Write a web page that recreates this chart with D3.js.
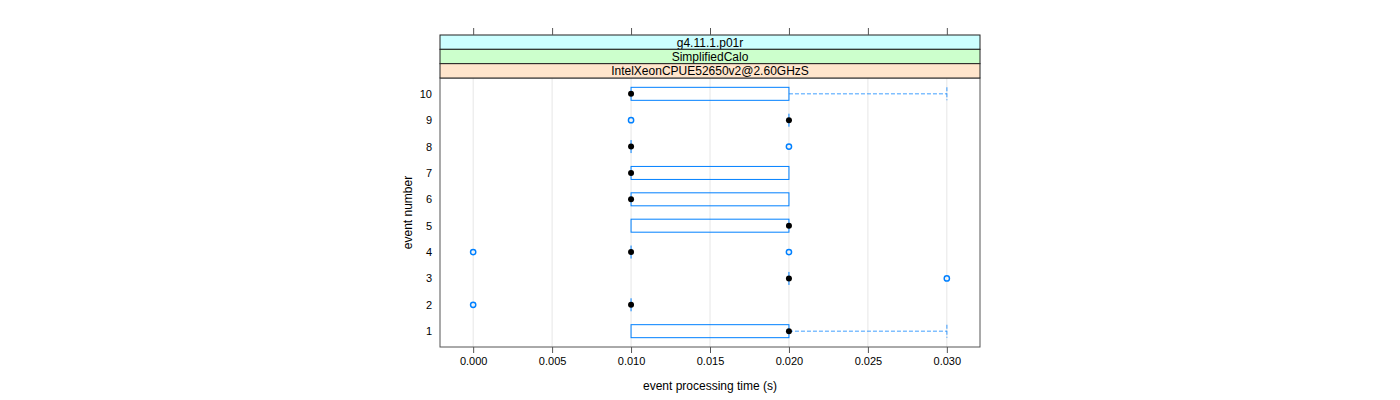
<!DOCTYPE html>
<html><head><meta charset="utf-8">
<script src="https://cdn.jsdelivr.net/npm/d3@7/dist/d3.min.js"></script>
<style>body{margin:0;background:#fff}text{font-family:"Liberation Sans",Arial,sans-serif}</style>
</head><body><svg id="c" width="1400" height="400"></svg>
<script>
// Data
const events = [1,2,3,4,5,6,7,8,9,10];
const q1 =      [0.010,0.010,0.020,0.010,0.010,0.010,0.010,0.010,0.020,0.010];
const median =  [0.020,0.010,0.020,0.010,0.020,0.010,0.010,0.010,0.020,0.010];
const q3 =      [0.020,0.010,0.020,0.010,0.020,0.020,0.020,0.010,0.020,0.020];
const whiskLo = [0.010,0.010,0.020,0.010,0.010,0.010,0.010,0.010,0.020,0.010];
const whiskHi = [0.030,0.010,0.020,0.010,0.020,0.020,0.020,0.010,0.020,0.030];
const outliers = [[],[0.000],[0.030],[0.000,0.020],[],[],[],[0.020],[0.010],[]];
const xTicks = [0.000,0.005,0.010,0.015,0.020,0.025,0.030];
const strips = ["g4.11.1.p01r","SimplifiedCalo","IntelXeonCPUE52650v2@2.60GHzS"];
const stripColors = ["#ccffff","#ccffcc","#ffe5cc"];

const svg = d3.select("#c");
const L=440, R=980, T=78, B=347;
const x = d3.scaleLinear().domain([-0.0021,0.0321]).range([L,R]);
const y = d3.scaleLinear().domain([0.4,10.6]).range([B,T]);
const blue = "#0080ff";

// grid
svg.append("g").selectAll("line").data(xTicks).join("line")
  .attr("x1",d=>x(d)).attr("x2",d=>x(d)).attr("y1",T).attr("y2",B)
  .attr("stroke","#e6e6e6").attr("stroke-width",1);

const hw = 6.5;
events.forEach((e,i)=>{
  const cy = y(e);
  const g = svg.append("g");
  // whiskers
  if (whiskHi[i] > q3[i]) {
    g.append("line").attr("x1",x(q3[i])).attr("x2",x(whiskHi[i])).attr("y1",cy).attr("y2",cy)
      .attr("stroke",blue).attr("stroke-opacity",0.5).attr("stroke-dasharray","4,2").attr("stroke-width",1.5);
    g.append("line").attr("x1",x(whiskHi[i])).attr("x2",x(whiskHi[i])).attr("y1",cy-hw).attr("y2",cy+hw)
      .attr("stroke",blue).attr("stroke-opacity",0.5).attr("stroke-dasharray","4,2").attr("stroke-width",1.5);
  }
  if (whiskLo[i] < q1[i]) {
    g.append("line").attr("x1",x(whiskLo[i])).attr("x2",x(q1[i])).attr("y1",cy).attr("y2",cy)
      .attr("stroke",blue).attr("stroke-opacity",0.5).attr("stroke-dasharray","4,2").attr("stroke-width",1.5);
  }
  // box
  if (q3[i] > q1[i]) {
    g.append("rect").attr("x",x(q1[i])).attr("y",cy-hw).attr("width",x(q3[i])-x(q1[i])).attr("height",2*hw)
      .attr("fill","none").attr("stroke",blue).attr("stroke-width",1);
  } else {
    g.append("line").attr("x1",x(q1[i])).attr("x2",x(q1[i])).attr("y1",cy-hw).attr("y2",cy+hw)
      .attr("stroke",blue).attr("stroke-width",1);
  }
  // outliers
  outliers[i].forEach(o=>{
    g.append("circle").attr("cx",x(o)).attr("cy",cy).attr("r",2.6)
      .attr("fill","none").attr("stroke",blue).attr("stroke-width",1.5);
  });
  // median
  g.append("circle").attr("cx",x(median[i])).attr("cy",cy).attr("r",3).attr("fill","#000");
});

// panel border
svg.append("rect").attr("x",L).attr("y",T).attr("width",R-L).attr("height",B-T)
  .attr("fill","none").attr("stroke","#555").attr("stroke-width",1);

// strips
const sh = (T-35)/3;
strips.forEach((s,i)=>{
  const sy = 35 + i*sh;
  svg.append("rect").attr("x",L).attr("y",sy).attr("width",R-L).attr("height",sh)
    .attr("fill",stripColors[i]).attr("stroke","#222").attr("stroke-width",1);
  svg.append("text").attr("x",(L+R)/2).attr("y",sy+sh/2+4.5).attr("text-anchor","middle")
    .attr("font-size",12).text(s);
});

// bottom axis
const xb = d3.axisBottom(x).tickValues(xTicks).tickFormat(d3.format(".3f")).tickSize(6).tickPadding(4);
const gb = svg.append("g").attr("transform",`translate(0,${B})`).call(xb);
gb.select(".domain").remove();
gb.selectAll("line").attr("stroke","#555");
gb.selectAll("text").attr("font-size",11).attr("font-family","Liberation Sans, Arial, sans-serif").attr("fill","#000");

// top ticks
const xt = d3.axisTop(x).tickValues(xTicks).tickFormat("").tickSize(7);
const gt = svg.append("g").attr("transform",`translate(0,35)`).call(xt);
gt.select(".domain").remove();
gt.selectAll("line").attr("stroke","#555");

// left labels
const yl = d3.axisLeft(y).tickValues(events).tickFormat(d3.format("d")).tickSize(0).tickPadding(8);
const gl = svg.append("g").attr("transform",`translate(${L},0)`).call(yl);
gl.select(".domain").remove();
gl.selectAll("text").attr("font-size",11).attr("font-family","Liberation Sans, Arial, sans-serif").attr("fill","#000");

// titles
svg.append("text").attr("x",(L+R)/2).attr("y",390).attr("text-anchor","middle").attr("font-size",12)
  .text("event processing time (s)");
svg.append("text").attr("transform",`translate(412,${(T+B)/2}) rotate(-90)`).attr("text-anchor","middle")
  .attr("font-size",12).text("event number");
</script></body></html>
